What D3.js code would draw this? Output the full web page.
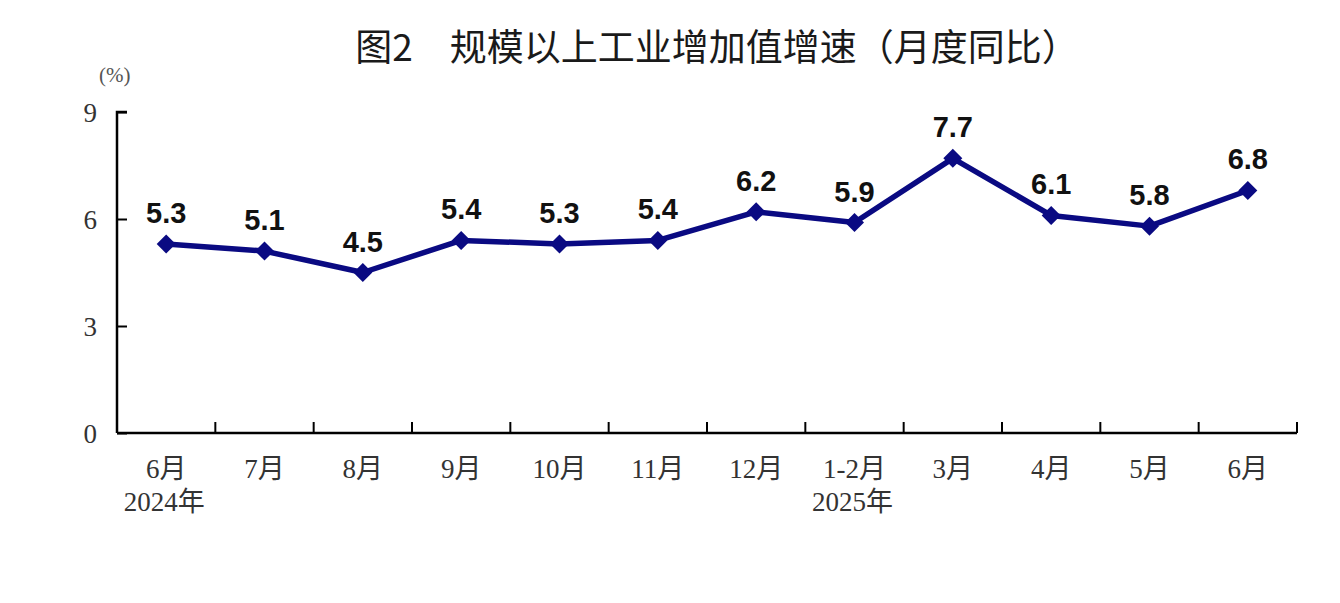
<!DOCTYPE html>
<html>
<head>
<meta charset="utf-8">
<script src="https://cdn.jsdelivr.net/npm/d3@7"></script>
<style>
  body { margin: 0; background: #fff; }
  svg { display: block; }
</style>
</head>
<body>
<div id="chart"></div>
<script>
// data
var months = ["6月", "7月", "8月", "9月", "10月", "11月", "12月", "1-2月", "3月", "4月", "5月", "6月"]
var years = ["2024年", "", "", "", "", "", "", "2025年", "", "", "", ""]
var growth = [5.3, 5.1, 4.5, 5.4, 5.3, 5.4, 6.2, 5.9, 7.7, 6.1, 5.8, 6.8]
var yTicks = [0, 3, 6, 9]

var width = 1340
var height = 603
var margin = { top: 112, right: 43, bottom: 170, left: 117 }
var innerW = width - margin.left - margin.right
var innerH = height - margin.top - margin.bottom

var serif = "'Liberation Serif', 'Times New Roman', 'Noto Sans CJK SC', serif"

var svg = d3.select("#chart")
  .append("svg")
  .attr("width", width)
  .attr("height", height)

// title
svg.append("text")
  .attr("x", 717)
  .attr("y", 61)
  .attr("text-anchor", "middle")
  .style("font-family", "'Noto Sans CJK SC', sans-serif")
  .style("font-size", "37px")
  .style("fill", "#1a1a1a")
  .text("图2　规模以上工业增加值增速（月度同比）")

var g = svg.append("g")
  .attr("transform", "translate(" + margin.left + "," + margin.top + ")")

// scales
var x = d3.scaleBand()
  .domain(d3.range(months.length))
  .range([0, innerW])

var y = d3.scaleLinear()
  .domain([0, 9])
  .range([innerH, 0])

// y axis
var yAxis = g.append("g")
  .call(d3.axisRight(y).tickValues(yTicks).tickSize(10).tickFormat(d3.format("d")))
yAxis.select(".domain").attr("d", "M10,0H0V" + innerH)
yAxis.selectAll("line").attr("stroke", "#000").attr("stroke-width", 2)
yAxis.select(".domain").attr("stroke", "#000").attr("stroke-width", 2.5)
yAxis.selectAll("text")
  .attr("x", -20)
  .attr("dy", "0.36em")
  .attr("text-anchor", "end")
  .style("font-family", serif)
  .style("font-size", "27px")
  .style("fill", "#333")

// unit label
svg.append("text")
  .attr("x", 99)
  .attr("y", 82)
  .style("font-family", serif)
  .style("font-size", "21px")
  .style("fill", "#555")
  .text("(%)")

// x axis with ticks between bands pointing up
var xAxis = g.append("g")
  .attr("transform", "translate(0," + innerH + ")")
xAxis.append("line")
  .attr("x1", 0).attr("x2", innerW)
  .attr("stroke", "#000").attr("stroke-width", 2.5)
xAxis.selectAll(".tick")
  .data(d3.range(1, months.length + 1))
  .enter()
  .append("line")
  .attr("x1", function (d) { return d * x.step() })
  .attr("x2", function (d) { return d * x.step() })
  .attr("y1", 0)
  .attr("y2", -11)
  .attr("stroke", "#000")
  .attr("stroke-width", 2)

xAxis.selectAll(".month")
  .data(months)
  .enter()
  .append("text")
  .attr("x", function (d, i) { return x(i) + x.bandwidth() / 2 })
  .attr("y", 45)
  .attr("text-anchor", "middle")
  .style("font-family", serif)
  .style("font-size", "27px")
  .style("fill", "#333")
  .text(function (d) { return d })

xAxis.selectAll(".year")
  .data(years)
  .enter()
  .append("text")
  .attr("x", function (d, i) { return x(i) + x.bandwidth() / 2 - 2 })
  .attr("y", 78)
  .attr("text-anchor", "middle")
  .style("font-family", serif)
  .style("font-size", "27px")
  .style("fill", "#333")
  .text(function (d) { return d })

// line
var line = d3.line()
  .x(function (d, i) { return x(i) + x.bandwidth() / 2 })
  .y(function (d) { return y(d) })

g.append("path")
  .datum(growth)
  .attr("d", line)
  .attr("fill", "none")
  .attr("stroke", "#0a0a82")
  .attr("stroke-width", 5.5)
  .attr("stroke-linejoin", "round")

// diamond markers
g.selectAll(".marker")
  .data(growth)
  .enter()
  .append("path")
  .attr("d", d3.symbol().type(d3.symbolDiamond2).size(230))
  .attr("transform", function (d, i) { return "translate(" + (x(i) + x.bandwidth() / 2) + "," + y(d) + ")" })
  .attr("fill", "#0a0a82")

// value labels
g.selectAll(".label")
  .data(growth)
  .enter()
  .append("text")
  .attr("x", function (d, i) { return x(i) + x.bandwidth() / 2 })
  .attr("y", function (d) { return y(d) - 21 })
  .attr("text-anchor", "middle")
  .style("font-family", "'Liberation Sans', Arial, sans-serif")
  .style("font-weight", "bold")
  .style("font-size", "29px")
  .style("fill", "#111")
  .text(function (d) { return d.toFixed(1) })
</script>
</body>
</html>
